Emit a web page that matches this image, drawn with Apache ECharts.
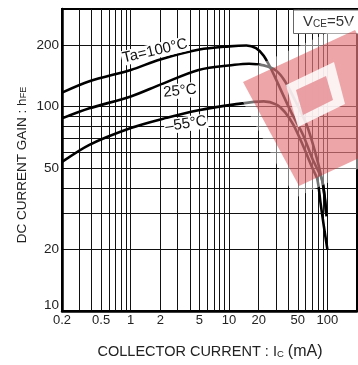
<!DOCTYPE html>
<html>
<head>
<meta charset="utf-8">
<script src="https://cdn.jsdelivr.net/npm/echarts@6/dist/echarts.min.js"></script>
<style>
  html, body { margin: 0; padding: 0; background: #fff; }
  #chart { width: 358px; height: 365px; }
</style>
</head>
<body>
<div id="chart"></div>
<script>
// Collector current (mA) and DC current gain for each ambient temperature
const ic100 = [0.2, 0.38, 1, 2, 5, 10, 15, 18.8, 22.5, 27.8, 34.3, 43.2, 56.3, 70.4, 88, 93, 97];
const hfe100 = [117, 133, 151, 170, 190, 197, 199, 193, 177, 147, 118, 93, 73, 55.5, 44, 37, 30];

const ic25 = [0.2, 0.38, 1, 2, 4.9, 11.4, 16, 22.5, 30, 37, 47, 61.5, 75, 88, 94, 98];
const hfe25 = [87.5, 98, 112, 128, 151, 160, 162, 159, 150, 133, 107, 81.5, 60, 44, 36, 29];

const icM55 = [0.2, 0.38, 1, 2, 4.9, 11.4, 22.5, 30, 37, 45, 56, 70.4, 79, 85, 92, 100];
const hfeM55 = [53.6, 65, 78.5, 86.5, 96, 102.5, 106, 102.5, 94, 81.5, 65, 50, 44, 34, 26, 20];

// Axis ticks
const xLabelValues = [0.2, 0.5, 1, 2, 5, 10, 20, 50, 100];
const xGridValues = [0.3, 0.4, 0.5, 0.6, 0.7, 0.8, 0.9, 1, 2, 3, 4, 5, 6, 7, 8, 9, 10,
                     20, 30, 40, 50, 60, 70, 80, 90, 100];
const yLabelValues = [10, 20, 50, 100, 200];
const yGridValues = [20, 30, 40, 50, 60, 70, 80, 90, 100, 200];

const FONT = '"Liberation Sans", Arial, sans-serif';

const pairs = (xs, ys) => xs.map((x, i) => [x, ys[i]]);

const curve = (name, xs, ys) => ({
  name,
  type: 'line',
  data: pairs(xs, ys),
  showSymbol: false,
  smooth: 0.3,
  lineStyle: { color: '#000', width: 2.6 },
  z: 3
});

const chart = echarts.init(document.getElementById('chart'), null, { renderer: 'canvas' });

chart.setOption({
  animation: false,
  backgroundColor: '#fff',
  grid: {
    left: 62, right: 1, top: 9, bottom: 54,
    show: true, borderColor: '#000', borderWidth: 2, backgroundColor: 'transparent'
  },
  xAxis: {
    type: 'log', logBase: 10, min: 0.2, max: 200,
    axisLine: { show: true, onZero: false, lineStyle: { color: '#000', width: 2.5 } },
    axisTick: { show: false, customValues: xGridValues },
    splitLine: { show: true, lineStyle: { color: '#111', width: 1 } },
    axisLabel: {
      customValues: xLabelValues,
      margin: 3,
      fontFamily: FONT, fontSize: 13, color: '#222',
      formatter: v => (v < 1 ? '{n|' + v + '}' : String(v)),
      rich: { n: { fontFamily: '"Liberation Sans Narrow", ' + FONT, fontSize: 13, color: '#222' } }
    }
  },
  yAxis: {
    type: 'log', logBase: 10, min: 10, max: 300,
    axisLine: { show: true, onZero: false, lineStyle: { color: '#000', width: 2.5 } },
    axisTick: { show: false, customValues: yGridValues },
    splitLine: { show: true, lineStyle: { color: '#111', width: 1 } },
    axisLabel: {
      customValues: yLabelValues,
      margin: 3,
      fontFamily: FONT, fontSize: 13.5, color: '#222',
      formatter: v => (v === 10 ? '{b|10}' : String(v)),
      rich: { b: { fontFamily: FONT, fontSize: 13.5, color: '#222', padding: [0, 0, 11, 0] } }
    }
  },
  series: [
    curve('Ta=100°C', ic100, hfe100),
    curve('25°C', ic25, hfe25),
    curve('-55°C', icM55, hfeM55)
  ],
  graphic: [
    // curve annotations
    {
      type: 'text', x: 155, y: 51, rotation: 13 * Math.PI / 180, z: 20,
      style: { text: 'Ta=100°C', font: '15px ' + FONT, fill: '#111', align: 'center', verticalAlign: 'middle',
               backgroundColor: '#fff', padding: [0, 1] }
    },
    {
      type: 'text', x: 180, y: 91, rotation: 5.5 * Math.PI / 180, z: 20,
      style: { text: '25°C', font: '15px ' + FONT, fill: '#111', align: 'center', verticalAlign: 'middle',
               backgroundColor: '#fff', padding: [0, 1] }
    },
    {
      type: 'text', x: 186, y: 124, rotation: 9 * Math.PI / 180, z: 20,
      style: { text: '–55°C', font: '15px ' + FONT, fill: '#111', align: 'center', verticalAlign: 'middle',
               backgroundColor: '#fff', padding: [0, 1] }
    },
    // test condition box
    {
      type: 'rect', z: 20,
      shape: { x: 293.5, y: 10, width: 70, height: 23.5 },
      style: { fill: '#fff', stroke: '#666', lineWidth: 1 }
    },
    {
      type: 'text', x: 303, y: 22, z: 21,
      style: {
        text: '{v|V}{s|CE}{v|=5V}', verticalAlign: 'middle',
        rich: {
          v: { font: '15px ' + FONT, fill: '#333' },
          s: { font: '10px ' + FONT, fill: '#333', padding: [4, 0, 0, 0] }
        }
      }
    },
    // axis titles
    {
      type: 'text', x: 22, y: 165, rotation: Math.PI / 2, z: 20,
      style: {
        text: '{t|DC CURRENT GAIN : h}{s|FE}', align: 'center', verticalAlign: 'middle',
        rich: {
          t: { font: '13.5px ' + FONT, fill: '#222' },
          s: { font: '9px ' + FONT, fill: '#222', padding: [4, 0, 0, 0] }
        }
      }
    },
    {
      type: 'text', x: 210, y: 352, z: 20,
      style: {
        text: '{t|COLLECTOR CURRENT : I}{s|C}{t| }{u|(mA)}', align: 'center', verticalAlign: 'middle',
        rich: {
          t: { font: '14.5px ' + FONT, fill: '#222' },
          s: { font: '9.5px ' + FONT, fill: '#222', padding: [4, 0, 0, 0] },
          u: { font: '16px ' + FONT, fill: '#222' }
        }
      }
    },
    // watermark: soft white halo, red square, white frame inside
    {
      type: 'polygon', z: 29, silent: true,
      shape: { points: [[230, 78], [359, 18], [424, 138], [295, 198]] },
      style: { fill: 'rgba(255, 255, 255, 0.45)' }
    },
    {
      type: 'polygon', z: 30, silent: true,
      shape: { points: [[243, 82], [355, 30], [411, 134], [299, 186]] },
      style: { fill: 'rgba(212, 40, 48, 0.42)' }
    },
    {
      type: 'polygon', z: 31, silent: true,
      shape: { points: [[286, 85], [334, 62], [345, 104], [298, 127]] },
      style: { fill: 'rgba(255, 255, 255, 0.85)' }
    },
    {
      type: 'polygon', z: 32, silent: true,
      shape: { points: [[296, 90], [326, 76], [333, 100], [303, 115]] },
      style: { fill: 'rgba(232, 150, 155, 0.9)' }
    }
  ]
});
</script>
</body>
</html>
